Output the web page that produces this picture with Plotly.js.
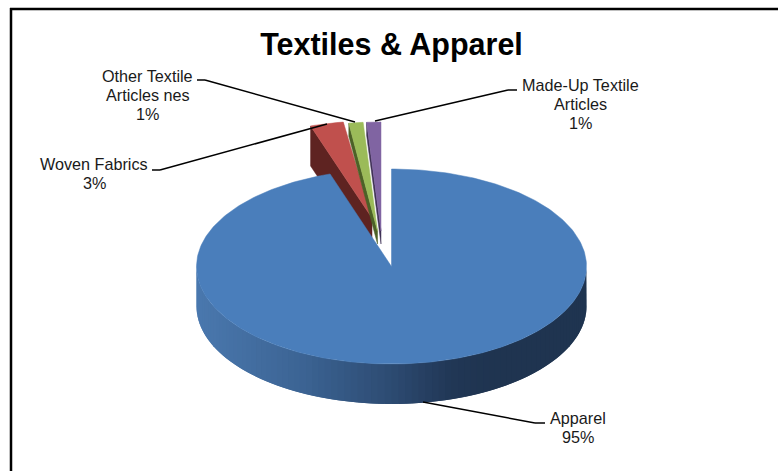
<!DOCTYPE html>
<html>
<head>
<meta charset="utf-8">
<script src="https://cdn.plot.ly/plotly-3.0.1.min.js"></script>
<style>html,body{margin:0;padding:0;background:#fff}#chart{width:778px;height:471px}</style>
</head>
<body>
<div id="chart"></div>
<script>
// ---- data ----
const categories = ['Apparel', 'Woven Fabrics', 'Other Textile Articles nes', 'Made-Up Textile Articles'];
const shares = [94.9, 2.75, 1.175, 1.175];
const labelLines = [['Apparel'], ['Woven Fabrics'], ['Other Textile', 'Articles nes'], ['Made-Up Textile', 'Articles']];
const chartTitle = 'Textiles & Apparel';

// ---- styling / projection ----
const topColors = ['#4a7ebb', '#c0504d', '#9bbb59', '#8064a2'];
const wallColors = ['#203550', '#5e2321', '#4c6127', '#3f3055'];
const cx = 391.5, cy = 266.5, rx = 195, ry = 97.5, depth = 40;
// per-slice pulled-out apex and projected radius
const apexes = [[cx, cy], [372, 218], [377.5, 231], [381, 231]];
const radiiY = [ry, 97, 109, 109];
const wallDepth = [depth, 40, 13, 13];
const labelPos = [[578, 418], [94, 164], [147.5, 76], [580, 85]];
const lineGap = 19;
const leaders = [
  [[545, 423], [535, 423], [423, 402]],
  [[152, 170], [160, 170], [327, 124]],
  [[197, 80], [205, 80], [355, 122]],
  [[517, 90], [508, 90], [375, 121]]
];
const sideStops = [[197, [74, 120, 174]], [300, [60, 100, 148]], [391, [45, 75, 114]], [450, [33, 55, 86]], [490, [31, 52, 80]], [586, [31, 52, 80]]];

const total = shares.reduce((a, b) => a + b, 0);
const rad = d => d * Math.PI / 180;

function sideColor(x) {
  for (let i = 1; i < sideStops.length; i++) {
    if (x <= sideStops[i][0]) {
      const a = sideStops[i - 1], b = sideStops[i];
      const t = Math.max(0, (x - a[0]) / (b[0] - a[0]));
      return 'rgb(' + a[1].map((v, k) => Math.round(v + (b[1][k] - v) * t)).join(',') + ')';
    }
  }
  return 'rgb(' + sideStops[sideStops.length - 1][1].join(',') + ')';
}

function poly(xs, ys, color, lw) {
  return {type: 'scatter', mode: 'lines', x: xs, y: ys, fill: 'toself', fillcolor: color,
          line: {color: color, width: lw}, hoverinfo: 'skip', showlegend: false};
}

// angular span of every slice (clockwise from 12 o'clock)
let start = 0;
const spans = shares.map(v => { const s = [start, start + v / total * 360]; start = s[1]; return s; });

const traces = [];
// small pulled-out slices first, then the big slice over them
[1, 2, 3, 0].forEach(i => {
  const [a0, a1] = spans[i];
  const [ax, ay] = apexes[i];
  const ryi = radiiY[i], d = wallDepth[i];
  const rim = [];
  const n = Math.max(4, Math.ceil((a1 - a0) / 1));
  for (let k = 0; k <= n; k++) {
    const a = rad(a0 + (a1 - a0) * k / n);
    rim.push([ax + rx * Math.sin(a), ay - ryi * Math.cos(a)]);
  }
  if (i === 0) {
    // outer rim wall, shaded band by band; each band overlaps the next one
    const step = 1;
    for (let a = 90; a < 270; a += step * 2) {
      const arcX = [], arcY = [];
      const end = Math.min(270, a + step * 4);
      for (let b = a; b <= end; b += step) {
        arcX.push(ax + rx * Math.sin(rad(b)));
        arcY.push(ay - ryi * Math.cos(rad(b)));
      }
      const xs = arcX.concat(arcX.slice().reverse(), [arcX[0]]);
      const ys = arcY.concat(arcY.slice().reverse().map(v => v + d), [arcY[0]]);
      traces.push(poly(xs, ys, sideColor(ax + rx * Math.sin(rad(a + step))), 0));
    }
  } else {
    // radial wall facing the viewer
    const p0 = rim[0];
    traces.push(poly([p0[0], p0[0], ax, ax, p0[0]], [p0[1], p0[1] + d, ay + d, ay, p0[1]], wallColors[i], 0.5));
  }
  const xs = [ax].concat(rim.map(p => p[0]), [ax]);
  const ys = [ay].concat(rim.map(p => p[1]), [ay]);
  traces.push(poly(xs, ys, topColors[i], 0.5));
});

const font = {family: '"Liberation Sans", Arial, sans-serif', size: 16.2, color: '#1a1a1a'};
const annotations = [];
categories.forEach((c, i) => {
  const lines = labelLines[i].concat([Math.round(shares[i]) + '%']);
  lines.forEach((t, k) => annotations.push({
    x: labelPos[i][0], y: labelPos[i][1] + k * lineGap, xref: 'x', yref: 'y', text: t,
    showarrow: false, xanchor: 'center', yanchor: 'middle', font: font
  }));
});

const shapes = [
  {type: 'line', xref: 'x', yref: 'y', x0: 10, x1: 778, y0: 9, y1: 9, line: {color: '#000', width: 2.5}},
  {type: 'line', xref: 'x', yref: 'y', x0: 11, x1: 11, y0: 8, y1: 471, line: {color: '#000', width: 2.5}}
];
leaders.forEach(l => {
  for (let k = 0; k < l.length - 1; k++) {
    shapes.push({type: 'line', xref: 'x', yref: 'y', layer: 'above', x0: l[k][0], y0: l[k][1], x1: l[k + 1][0], y1: l[k + 1][1], line: {color: '#000', width: 1.5}});
  }
});

const layout = {
  width: 778, height: 471, margin: {l: 0, r: 0, t: 0, b: 0},
  paper_bgcolor: '#fff', plot_bgcolor: '#fff', showlegend: false,
  title: {text: chartTitle, x: 391.5 / 778, xanchor: 'center', y: 1 - 44 / 471, yanchor: 'middle',
          font: {family: '"Liberation Sans", Arial, sans-serif', size: 30.5, color: '#000', weight: 700}},
  xaxis: {range: [0, 778], visible: false, fixedrange: true},
  yaxis: {range: [471, 0], visible: false, fixedrange: true},
  annotations: annotations, shapes: shapes
};
Plotly.newPlot('chart', traces, layout, {displayModeBar: false, staticPlot: true});
</script>
</body>
</html>
